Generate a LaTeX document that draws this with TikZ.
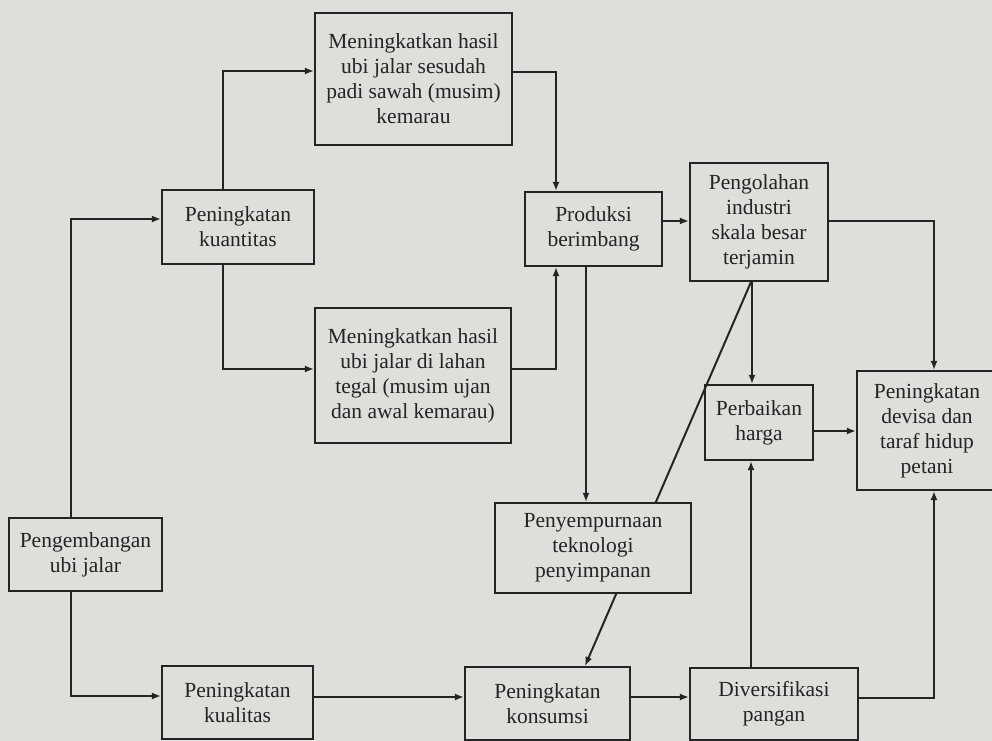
\documentclass[tikz,border=0pt]{standalone}
\usepackage{fontspec}
\setmainfont{Liberation Serif}
\usepackage{tikz}
\usetikzlibrary{arrows.meta, calc}

\definecolor{paper}{RGB}{222,222,218}
\definecolor{ink}{RGB}{36,36,36}

\tikzset{
  box/.style={draw=ink, line width=1.4pt, fill=paper, text=ink, align=center,
              inner sep=0pt, font=\fontsize{15.3}{17.8}\selectfont},
  sz/.style 2 args={minimum width=#1*0.025 cm, minimum height=#2*0.025 cm},
  line/.style={draw=ink, line width=1.4pt},
  arr/.style={line, -{Latex[length=6.5pt, width=5pt]}}
}

\begin{document}
\begin{tikzpicture}[x=0.025cm, y=-0.025cm]

 %% Paper
\clip (0, 0) rectangle (992, 741);
\fill[paper] (0, 0) rectangle (992, 741);

 %% Left column
\node[box, sz={153}{73}] at (85.5, 554.5) (dev) {Pengembangan\\ubi jalar};
\node[box, sz={152}{74}] at (238, 227) (kuan) {Peningkatan\\kuantitas};
\node[box, sz={151}{73}] at (237.5, 702.5) (kual) {Peningkatan\\kualitas};

 %% Yield boxes
\node[box, sz={197}{132}] at (413.5, 79) (sawah) {Meningkatkan hasil\\ubi jalar sesudah\\padi sawah (musim)\\kemarau};
\node[box, sz={196}{135}] at (413, 375.5) (tegal) {Meningkatkan hasil\\ubi jalar di lahan\\tegal (musim ujan\\dan awal kemarau)};

 %% Middle / right
\node[box, sz={137}{74}] at (593.5, 229) (prod) {Produksi\\berimbang};
\node[box, sz={138}{118}] at (759, 222) (olah) {Pengolahan\\industri\\skala besar\\terjamin};
\node[box, sz={108}{75}] at (759, 422.5) (harga) {Perbaikan\\harga};
\node[box, sz={140}{119}] at (927, 430.5) (devisa) {Peningkatan\\devisa dan\\taraf hidup\\petani};
\node[box, sz={165}{73}] at (547.5, 703.5) (kons) {Peningkatan\\konsumsi};
\node[box, sz={168}{72}] at (774, 704) (pangan) {Diversifikasi\\pangan};

% diagonal runs behind the storage box
\draw[arr] ($(olah.south) + (-8, 0)$) -- ($(kons.north) + (37.5, 0)$);
\node[box, sz={196}{90}] at (593, 548) (simpan) {Penyempurnaan\\teknologi\\penyimpanan};

 %% Connectors
% ubi jalar -> kuantitas / kualitas
\draw[arr] ($(dev.north) + (-14.5, 0)$) |- ($(kuan.west) + (0, -8)$);
\draw[arr] ($(dev.south) + (-14.5, 0)$) |- ($(kual.west) + (0, -6.5)$);
% kuantitas -> yield boxes
\draw[arr] ($(kuan.north) + (-15, 0)$) |- ($(sawah.west) + (0, -8)$);
\draw[arr] ($(kuan.south) + (-15, 0)$) |- ($(tegal.west) + (0, -6.5)$);
% yield boxes -> produksi
\draw[arr] ($(sawah.east) + (0, -7)$) -| ($(prod.north) + (-37.5, 0)$);
\draw[arr] ($(tegal.east) + (0, -6.5)$) -| ($(prod.south) + (-37.5, 0)$);
% produksi
\draw[arr] ($(prod.south) + (-7.5, 0)$) -- ($(simpan.north) + (-7, 0)$);
\draw[arr] ($(prod.east) + (0, -8)$) -- ($(olah.west) + (0, -1)$);
% pengolahan
\draw[arr] ($(olah.east) + (0, -1)$) -| ($(devisa.north) + (7, 0)$);
\draw[arr] ($(olah.south) + (-7, 0)$) -- ($(harga.north) + (-7, 0)$);
\draw[arr] ($(harga.east) + (0, 8.5)$) -- ($(devisa.west) + (0, 0.5)$);
% bottom row
\draw[arr] ($(kual.east) + (0, -5.5)$) -- ($(kons.west) + (0, -6.5)$);
\draw[arr] ($(kons.east) + (0, -6.5)$) -- ($(pangan.west) + (0, -7)$);
\draw[arr] ($(pangan.north) + (-23, 0)$) -- ($(harga.south) + (-8, 0)$);
\draw[arr] ($(pangan.east) + (0, -6)$) -| ($(devisa.south) + (7, 0)$);

\end{tikzpicture}
\end{document}
